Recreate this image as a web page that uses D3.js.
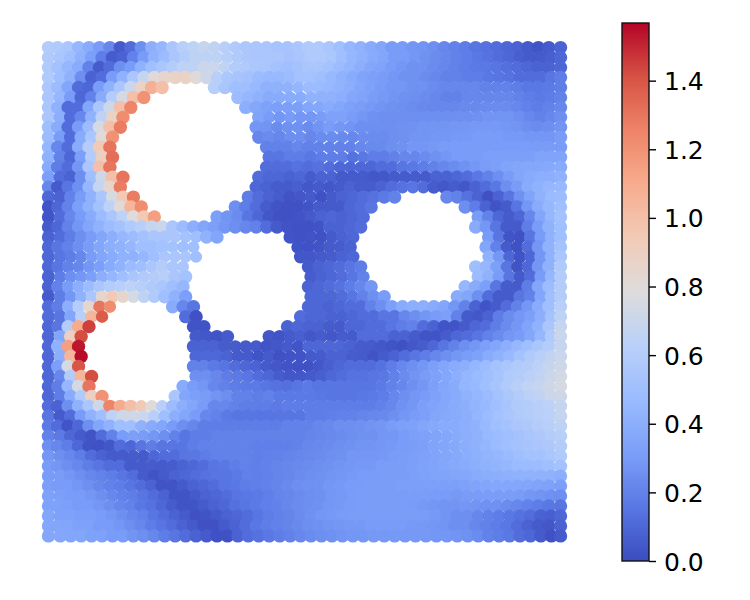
<!DOCTYPE html>
<html>
<head>
<meta charset="utf-8">
<script src="https://d3js.org/d3.v7.min.js"></script>
<style>
    body { margin: 0; background: #fff; }
    text { font-family: "DejaVu Sans", sans-serif; }
</style>
</head>
<body>
<div id="myDiv"></div>
<script>
// Field values, in hundredths. One array per row of points, _ = no point (holes)
const _ = null;
const row00 = [60,58,55,45,38,30,22,5,12,25, 40,45,55,62,65,68,66,62,58,56, 55,55,53,53,55,58,58,55,50,45, 42,38,35,30,30,28,27,25,22,20, 18,15,14,12,10,8,5,3,5,8];
const row01 = [58,55,50,42,32,18,6,8,20,30, 42,48,55,60,65,65,65,62,58,56, 55,55,55,53,55,58,58,56,50,45, 42,38,35,30,30,28,26,24,22,20, 18,16,14,12,10,7,5,5,7,10];
const row02 = [58,52,45,38,20,6,12,25,30,42, 50,55,60,65,65,70,70,66,60,58, 56,55,52,50,52,55,55,52,48,44, 40,36,34,30,28,26,26,24,22,20, 18,17,16,15,13,12,10,8,8,10];
const row03 = [58,50,42,25,8,12,30,42,55,68, 80,85,88,88,80,72,62,56,54,52, 48,46,46,48,52,52,50,46,42,38, 34,32,30,28,26,26,24,22,20,20, 18,18,16,15,14,12,12,12,15,18];
const row04 = [56,48,35,12,10,30,42,55,70,88, 108,100,_,_,_,_,62,55,50,50, 46,42,42,42,44,48,48,46,43,40, 36,33,30,28,28,26,26,24,22,22, 22,22,20,20,20,18,16,16,17,18];
const row05 = [55,45,30,10,20,38,60,75,100,120, _,_,_,_,_,_,_,_,48,45, 42,38,38,38,38,42,42,42,40,36, 34,31,29,27,26,25,24,22,20,20, 22,22,22,22,22,20,18,17,18,20];
const row06 = [55,42,12,12,35,55,72,100,125,_, _,_,_,_,_,_,_,_,_,40, 36,33,32,32,32,35,36,38,36,33, 31,29,27,26,25,24,23,22,22,22, 23,23,24,24,24,22,20,18,20,22];
const row07 = [55,40,12,22,42,65,88,122,_,_, _,_,_,_,_,_,_,_,_,_, 34,30,28,30,28,28,30,33,33,30, 28,26,25,25,25,25,25,25,25,25, 25,26,27,27,27,25,22,20,22,25];
const row08 = [50,38,12,30,48,75,100,128,_,_, _,_,_,_,_,_,_,_,_,_, 28,27,24,26,26,24,27,30,28,27, 25,25,25,25,26,26,27,27,27,28, 28,29,29,29,28,27,25,24,25,27];
const row09 = [48,30,12,38,55,80,120,_,_,_, _,_,_,_,_,_,_,_,_,_, 22,24,22,25,25,22,24,24,23,22, 24,24,24,25,26,27,27,28,28,29, 29,30,30,30,29,29,28,28,28,30];
const row10 = [45,22,12,38,60,95,130,_,_,_, _,_,_,_,_,_,_,_,_,_, _,20,20,20,22,20,20,20,20,20, 22,23,23,25,26,28,28,29,30,30, 30,30,30,30,30,30,30,30,30,30];
const row11 = [42,20,10,32,60,90,132,_,_,_, _,_,_,_,_,_,_,_,_,_, _,15,15,18,18,16,18,18,18,14, 16,18,18,20,22,22,24,26,28,30, 30,30,32,32,32,32,32,34,34,34];
const row12 = [38,18,12,28,55,100,130,_,_,_, _,_,_,_,_,_,_,_,_,_, _,12,12,12,14,12,14,12,10,10, 10,10,12,12,15,16,18,20,22,24, 26,28,30,32,34,35,36,36,37,38];
const row13 = [32,12,8,25,50,72,100,130,_,_, _,_,_,_,_,_,_,_,_,_, 12,10,10,8,10,6,8,8,5,5, 5,4,4,5,6,6,5,8,8,10, 12,16,20,25,30,35,38,40,40,42];
const row14 = [22,5,15,25,45,68,85,128,_,_, _,_,_,_,_,_,_,_,_,_, 10,8,6,5,7,4,5,4,5,8, 6,6,8,12,14,15,12,6,4,6, 4,8,12,16,25,30,38,42,45,46];
const row15 = [10,8,20,30,42,55,75,95,128,_, _,_,_,_,_,_,_,_,_,18, 12,8,6,3,4,5,2,5,8,10, 12,14,17,20,_,_,_,_,22,20, 14,8,2,8,15,26,34,42,47,48];
const row16 = [3,10,20,32,42,52,65,80,105,122, _,_,_,_,_,_,_,_,25,18, 12,6,3,2,2,3,5,5,5,10, 12,15,_,_,_,_,_,_,_,_, 25,18,8,3,5,15,28,38,45,50];
const row17 = [3,12,22,30,38,48,55,65,78,95, 115,_,_,_,_,_,32,27,24,15, 10,4,2,2,3,5,8,10,8,10, 12,_,_,_,_,_,_,_,_,_, _,30,20,10,5,10,22,35,45,52];
const row18 = [5,10,20,28,35,42,48,52,58,62, 68,70,55,48,40,35,32,28,25,22, 20,12,5,3,2,2,3,8,8,10, 12,_,_,_,_,_,_,_,_,_, _,38,28,15,5,5,18,30,42,50];
const row19 = [8,12,18,25,30,35,40,45,48,52, 55,55,55,52,50,42,35,_,_,_, _,_,_,3,2,3,2,5,8,10, _,_,_,_,_,_,_,_,_,_, _,_,30,15,3,2,15,30,42,50];
const row20 = [10,15,20,25,30,35,40,42,45,50, 50,52,52,50,50,_,_,_,_,_, _,_,_,_,3,2,3,5,6,8, _,_,_,_,_,_,_,_,_,_, _,_,35,20,5,2,12,28,42,52];
const row21 = [10,15,18,22,30,35,38,42,42,45, 50,55,55,55,50,_,_,_,_,_, _,_,_,_,4,4,5,6,8,10, _,_,_,_,_,_,_,_,_,_, _,_,42,28,10,3,10,28,42,55];
const row22 = [10,15,20,22,28,32,38,42,48,50, 55,60,55,55,_,_,_,_,_,_, _,_,_,_,_,5,8,10,12,15, 18,_,_,_,_,_,_,_,_,_, _,50,45,32,15,3,10,28,42,58];
const row23 = [8,18,25,28,32,40,45,50,55,58, 60,62,55,52,_,_,_,_,_,_, _,_,_,_,_,6,8,10,12,15, 20,_,_,_,_,_,_,_,_,_, _,48,42,30,15,5,12,30,45,60];
const row24 = [8,20,30,40,48,55,60,62,65,62, 58,55,50,45,_,_,_,_,_,_, _,_,_,_,_,8,10,12,14,18, 22,28,_,_,_,_,_,_,_,_, 45,38,32,15,6,5,18,35,48,60];
const row25 = [5,18,28,42,55,85,95,85,75,65, 58,50,42,32,_,_,_,_,_,_, _,_,_,_,_,10,10,10,12,15, 20,25,30,_,_,_,_,_,_,38, 35,25,12,5,5,15,20,35,50,60];
const row26 = [12,18,40,60,85,130,122,_,_,_, _,_,38,22,15,_,_,_,_,_, _,_,_,_,_,10,10,8,10,12, 12,20,25,32,38,40,40,38,35,28, 20,8,3,5,12,20,28,38,50,62];
const row27 = [12,15,35,62,105,138,_,_,_,_, _,_,_,12,2,_,_,_,_,_, _,_,_,_,12,10,10,8,8,10, 12,12,15,15,22,25,28,30,32,20, 5,4,8,18,24,28,32,40,52,65];
const row28 = [10,15,60,110,145,_,_,_,_,_, _,_,_,_,3,3,_,_,_,_, _,_,_,8,10,8,8,6,5,10, 10,12,12,15,18,20,12,8,3,3, 5,10,12,18,24,28,34,42,55,68];
const row29 = [10,35,90,142,_,_,_,_,_,_, _,_,_,_,5,4,3,5,_,_, _,4,3,5,7,4,6,4,6,5, 12,12,12,8,8,5,3,3,6,10, 12,15,20,24,28,30,36,45,58,70];
const row30 = [10,42,115,153,_,_,_,_,_,_, _,_,_,_,8,8,8,6,6,5, 5,3,4,5,3,10,10,10,10,8, 6,5,4,3,2,4,6,10,15,20, 25,28,32,35,40,45,50,55,60,68];
const row31 = [10,40,105,155,_,_,_,_,_,_, _,_,_,_,10,10,10,8,5,5, 3,5,2,3,3,5,6,8,8,6, 5,3,5,8,12,15,18,22,25,28, 30,33,38,42,46,52,58,62,66,70];
const row32 = [10,32,75,140,_,_,_,_,_,_, _,_,_,_,20,20,17,15,12,10, 8,5,4,3,2,2,4,7,10,12, 12,12,14,18,22,25,28,32,35,38, 40,44,48,52,55,58,60,64,68,72];
const row33 = [10,22,60,105,142,_,_,_,_,_, _,_,_,_,25,25,22,18,17,15, 12,10,6,4,4,5,7,10,12,14, 14,15,16,20,24,27,30,33,36,40, 44,47,50,54,58,60,63,66,70,74];
const row34 = [10,18,45,75,130,_,_,_,_,_, _,_,_,38,30,28,22,20,18,17, 17,15,14,13,15,17,15,15,15,15, 15,15,17,20,22,25,28,32,35,38, 44,46,50,54,58,62,66,68,72,75];
const row35 = [10,18,38,58,90,120,_,_,_,_, _,_,55,35,32,30,27,25,20,20, 18,20,17,17,17,17,16,15,15,15, 16,17,18,22,25,28,30,33,36,38, 42,45,48,52,56,60,64,66,70,72];
const row36 = [12,8,25,42,55,72,125,110,100,95, 80,62,48,40,35,30,22,22,20,18, 18,18,17,18,18,18,18,18,18,18, 18,18,20,22,26,28,32,34,36,38, 40,43,46,50,54,58,60,62,64,68];
const row37 = [15,5,12,30,42,50,65,72,72,70, 62,50,40,35,30,22,20,17,15,15, 15,15,15,15,15,18,18,19,20,20, 21,22,23,25,28,30,32,35,37,38, 40,44,48,52,55,58,60,62,64,68];
const row38 = [17,12,3,10,25,35,42,50,50,42, 38,35,30,25,22,18,18,18,18,18, 18,18,18,20,20,20,22,23,25,25, 26,27,28,30,32,33,35,37,38,38, 40,42,46,50,52,55,57,60,62,65];
const row39 = [20,17,10,5,3,12,20,30,32,30, 28,25,20,15,18,18,20,20,20,20, 20,20,20,20,20,21,22,23,24,25, 26,26,28,28,30,32,33,34,36,38, 40,42,46,48,50,52,55,57,60,62];
const row40 = [25,22,18,10,3,2,4,12,10,15, 18,15,15,15,18,20,20,20,20,20, 19,19,19,19,20,22,23,24,25,26, 27,27,28,29,30,31,32,34,35,37, 39,41,44,47,50,52,54,55,57,60];
const row41 = [28,25,22,18,12,8,5,5,6,5, 10,12,12,15,16,18,20,20,20,20, 19,20,20,21,22,23,24,25,26,28, 28,28,29,30,31,32,33,34,35,37, 39,41,43,45,47,50,52,52,55,58];
const row42 = [30,28,25,22,18,15,12,12,5,5, 6,5,6,8,10,12,15,16,18,20, 19,20,21,22,23,24,25,26,27,28, 29,29,30,31,31,32,33,34,35,37, 38,40,42,43,45,47,48,48,50,52];
const row43 = [30,30,28,25,22,20,18,15,12,5, 3,5,8,10,12,14,15,15,17,20, 19,20,21,22,24,25,26,27,28,29, 30,30,31,31,31,32,33,34,34,35, 36,38,39,40,41,42,42,42,42,40];
const row44 = [32,30,30,28,25,22,20,18,15,12, 8,3,3,5,8,10,12,15,16,18, 19,20,21,23,25,26,26,28,29,30, 30,31,31,31,32,32,32,32,32,32, 33,34,35,36,36,36,35,34,33,32];
const row45 = [33,32,30,30,28,25,22,20,18,15, 12,8,3,3,5,8,10,12,15,16, 17,19,21,22,24,25,26,28,29,30, 31,31,31,31,31,31,31,30,30,29, 30,30,31,31,31,30,28,27,26,25];
const row46 = [33,33,32,30,30,28,25,22,20,16, 14,10,6,3,3,5,8,10,13,15, 17,19,20,22,24,25,26,28,29,30, 31,31,31,31,31,30,29,28,27,27, 28,27,26,26,24,22,20,18,16,15];
const row47 = [35,33,33,32,32,30,28,25,22,20, 15,12,8,5,2,3,5,8,10,12, 15,18,20,21,24,26,28,29,30,31, 31,31,31,31,31,31,30,29,27,25, 25,22,20,18,16,14,12,8,7,10];
const row48 = [36,35,35,33,33,30,30,28,25,22, 18,15,12,8,5,2,2,5,8,12, 16,18,20,21,23,25,26,27,28,29, 29,30,30,30,30,29,29,28,27,25, 25,22,20,18,16,12,8,5,4,8];
const row49 = [36,36,35,35,33,33,30,30,27,25, 22,18,15,12,8,5,2,2,8,12, 14,16,18,20,22,24,25,26,27,28, 28,29,29,29,29,29,29,28,28,27, 26,24,20,18,16,12,10,5,2,5];

const rows = [row00,row01,row02,row03,row04,row05,row06,row07,row08,row09,
    row10,row11,row12,row13,row14,row15,row16,row17,row18,row19,
    row20,row21,row22,row23,row24,row25,row26,row27,row28,row29,
    row30,row31,row32,row33,row34,row35,row36,row37,row38,row39,
    row40,row41,row42,row43,row44,row45,row46,row47,row48,row49];

const colorbarTicks = [0, 0.2, 0.4, 0.6, 0.8, 1.0, 1.2, 1.4];
const maxValue = 1.568;
// coolwarm
const coolwarmStops = ["#3b4cc0","#5977e3","#7b9ff9","#9abbff","#b9d0f9","#dddcdc","#f2cbb7","#f7ac8e","#ee8468","#d65244","#b40426"];

const dotRadius = 6.7;
// Patches where the mesh is coarser and white shows between the dots: [x, y, reach, dot radius]
const coarsePatches = [
    [295,110,28,6.0], [343,150,26,6.0], [185,250,22,6.0], [300,358,20,6.15],
    [110,280,50,6.25], [225,62,18,6.25], [150,432,30,6.3], [318,190,20,6.35],
    [325,245,20,6.4], [345,282,20,6.4], [335,332,20,6.4], [245,365,26,6.4],
    [295,405,18,6.4], [395,380,18,6.35], [442,375,16,6.35], [445,440,22,6.4],
    [410,168,24,6.35], [510,255,24,6.35], [505,82,20,6.45], [480,108,18,6.45],
    [120,492,24,6.45], [490,500,26,6.45]
];

const svg = d3.select("#myDiv").append("svg")
    .attr("width", 750)
    .attr("height", 600);

const xScale = d3.scaleLinear().domain([0, 49]).range([48.5, 560.5]);
const yScale = d3.scaleLinear().domain([0, 49]).range([47.6, 535.9]);

const color = d3.scaleLinear()
    .domain(coolwarmStops.map(function(c, i) { return i / 10 * maxValue; }))
    .range(coolwarmStops)
    .interpolate(d3.interpolateRgb);

// Rows sit slightly staggered like the mesh, the two outer columns stay straight
function pointX(col, row) {
    let shift = (row % 2 ? 1 : -1) * 1.3;
    if (col == 0 || col == 49) shift = 0;
    return xScale(col) + shift;
}

function pointRadius(x, y) {
    let r = dotRadius;
    coarsePatches.forEach(function(p) {
        if (Math.hypot(x - p[0], y - p[1]) < p[2]) r = Math.min(r, p[3]);
    });
    return r;
}

// Flatten rows into points
let points = [];
rows.forEach(function(r, j) {
    r.forEach(function(v, i) {
        if (v !== null) {
            points.push({"col": i, "row": j, "value": v / 100});
        }
    });
});

svg.append("g")
    .selectAll("circle")
    .data(points)
    .enter()
    .append("circle")
    .attr("cx", function(d) { return pointX(d["col"], d["row"]); })
    .attr("cy", function(d) { return yScale(d["row"]); })
    .attr("r", function(d) { return pointRadius(pointX(d["col"], d["row"]), yScale(d["row"])); })
    .style("fill", function(d) { return color(d["value"]); });

// Colorbar
const barScale = d3.scaleLinear().domain([0, maxValue]).range([561, 23]);

const gradient = svg.append("defs").append("linearGradient")
    .attr("id", "coolwarm")
    .attr("x1", 0).attr("y1", 1)
    .attr("x2", 0).attr("y2", 0);
gradient.selectAll("stop")
    .data(coolwarmStops)
    .enter()
    .append("stop")
    .attr("offset", function(d, i) { return i / 10; })
    .attr("stop-color", function(d) { return d; });

svg.append("rect")
    .attr("x", 622)
    .attr("y", barScale(maxValue))
    .attr("width", 27)
    .attr("height", barScale(0) - barScale(maxValue))
    .style("fill", "url(#coolwarm)")
    .style("stroke", "#111")
    .style("stroke-width", 1.4);

const axis = d3.axisRight(barScale)
    .tickValues(colorbarTicks)
    .tickFormat(d3.format(".1f"))
    .tickSize(7)
    .tickSizeOuter(0);

const axisG = svg.append("g")
    .attr("transform", "translate(649,0)")
    .call(axis);
axisG.select(".domain").remove();
axisG.selectAll("line").style("stroke", "#000").style("stroke-width", 1.4);
axisG.selectAll("text")
    .attr("x", 15)
    .attr("dy", "0.36em")
    .style("font-size", "25px")
    .style("fill", "#000");
</script>
</body>
</html>
